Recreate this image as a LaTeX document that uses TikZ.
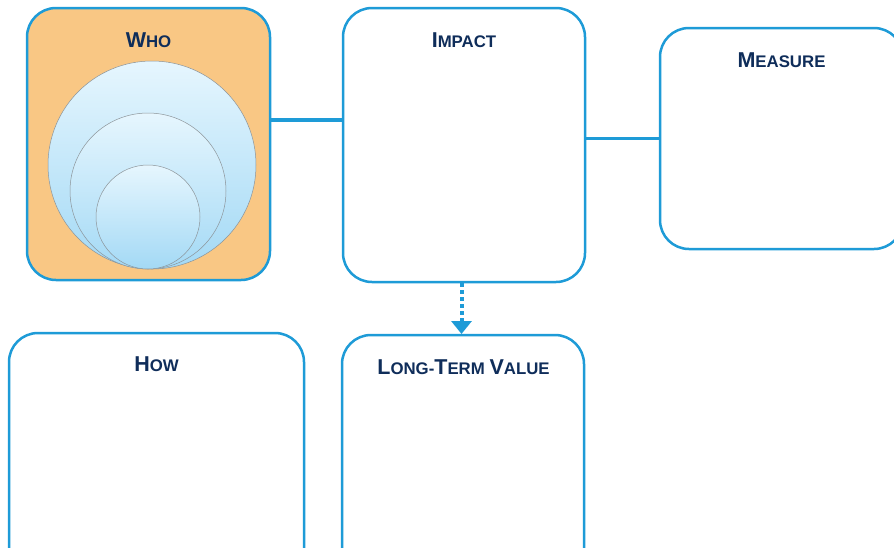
\documentclass[tikz,border=0pt]{standalone}
\usepackage{fontspec}
\setmainfont{Liberation Sans}
\usetikzlibrary{calc,arrows.meta,shapes.geometric}
\definecolor{bblue}{HTML}{1E9BD7}
\definecolor{navy}{HTML}{0F2D5A}
\definecolor{orangefill}{HTML}{F9C784}
\definecolor{ctop}{HTML}{E6F6FE}
\definecolor{cbot}{HTML}{A3D9F5}
\definecolor{cline}{HTML}{8C9499}
\newcommand{\scapt}[2]{{\fontsize{21.5}{21.5}\selectfont #1}{\fontsize{16.8}{16.8}\selectfont #2}}
\begin{document}
\begin{tikzpicture}[x=1pt,y=-1pt,
  panel/.style={draw=bblue, line width=2.5pt, rounded corners=29pt, rectangle, anchor=north west, inner sep=0pt, outer sep=0pt},
  title/.style={anchor=base, text=navy, font=\bfseries, inner sep=0pt},
  circ/.style={circle, draw=cline, line width=0.5pt, top color=ctop, bottom color=cbot, inner sep=0pt, outer sep=0pt},
  conn/.style={draw=bblue, line width=3.8pt},
  dotarrow/.style={draw=bblue, line width=4pt, dash pattern=on 4pt off 3pt, -{Triangle[width=20pt,length=13pt]}}
]
\useasboundingbox (0,0) rectangle (894,547);
\begin{scope}
\clip (0,0) rectangle (894,547);
% panels
\node[panel, fill=orangefill, minimum width=243pt, minimum height=272pt] (who) at (27,8) {};
\node[panel, fill=white, minimum width=242pt, minimum height=274pt] (impact) at (343,8) {};
\node[panel, fill=white, minimum width=243pt, minimum height=221pt] (measure) at (660,28) {};
\node[panel, fill=white, minimum width=295pt, minimum height=260pt] (how) at (9,333) {};
\node[panel, fill=white, minimum width=242pt, minimum height=260pt] (ltv) at (342,335) {};
% circles
\node[circ, minimum size=208pt] (c1) at (152,165) {};
\node[circ, minimum size=156pt] (c2) at (148,191) {};
\node[circ, minimum size=104pt] (c3) at (148,217) {};
% titles
\node[title] (whot) at ($(who.north)+(0,39.5)$) {\scapt{W}{HO}};
\node[title] (impactt) at ($(impact.north)+(0,39)$) {\scapt{I}{MPACT}};
\node[title] (measuret) at ($(measure.north)+(0,39)$) {\scapt{M}{EASURE}};
\node[title] (howt) at ($(how.north)+(0,38)$) {\scapt{H}{OW}};
\node[title] (ltvt) at ($(ltv.north)+(0.5,39)$) {\scapt{L}{ONG-}\scapt{T}{ERM }\scapt{V}{ALUE}};
% connectors
\coordinate (whoc) at ($(who.north east)+(0,112)$);
\draw[conn] (whoc) -- (impact.west |- whoc);
\draw[conn] (impact.east |- measure.west) -- (measure.west);
\draw[dotarrow] ($(impact.south)+(-2.5,1)$) -- ($(ltv.north)+(-1.5,-1)$);
\end{scope}
\end{tikzpicture}
\end{document}
